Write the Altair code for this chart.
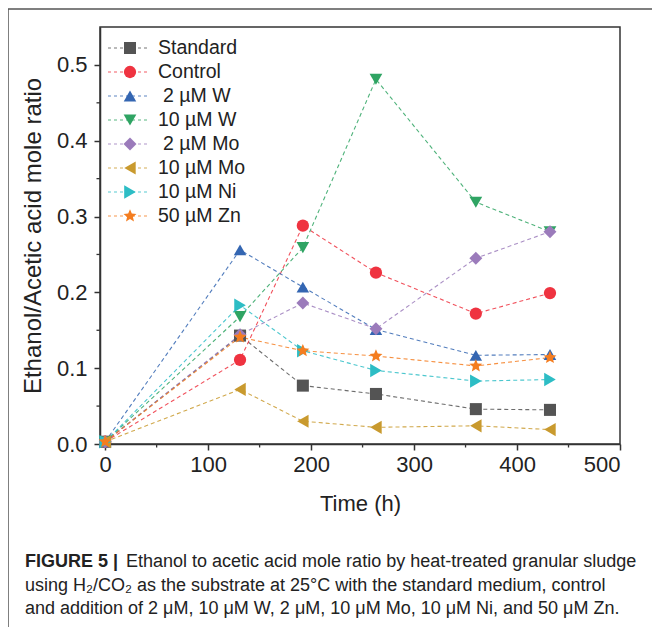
import altair as alt
import pandas as pd

# ---- data ----
time_h = [0, 131, 192, 263, 360, 432]
series = ["Standard", "Control", "2 µM W", "10 µM W", "2 µM Mo", "10 µM Mo", "10 µM Ni", "50 µM Zn"]
legend_indent = [0, 0, 1, 0, 1, 0, 0, 0]
standard = [0.003, 0.143, 0.077, 0.066, 0.046, 0.045]
control = [0.003, 0.111, 0.288, 0.226, 0.172, 0.199]
w2 = [0.003, 0.256, 0.207, 0.151, 0.117, 0.118]
w10 = [0.003, 0.168, 0.259, 0.481, 0.319, 0.280]
mo2 = [0.003, 0.144, 0.186, 0.152, 0.245, 0.280]
mo10 = [0.003, 0.072, 0.030, 0.022, 0.024, 0.019]
ni10 = [0.003, 0.183, 0.123, 0.097, 0.083, 0.085]
zn50 = [0.003, 0.141, 0.123, 0.116, 0.103, 0.114]
values = [standard, control, w2, w10, mo2, mo10, ni10, zn50]

x_ticks = [0, 100, 200, 300, 400, 500]
y_ticks = [0.0, 0.1, 0.2, 0.3, 0.4, 0.5]
x_minor = [50, 150, 250, 350, 450]
y_minor = [0.05, 0.15, 0.25, 0.35, 0.45]

colors = ["#545454", "#ef3340", "#3466b2", "#2fa463", "#9b7bbb", "#c99a2e", "#2dbdc5", "#f47d20"]
star = ("M0,-1L0.265,-0.364L0.951,-0.309L0.428,0.139L0.588,0.809L0,0.45"
        "L-0.588,0.809L-0.428,0.139L-0.951,-0.309L-0.265,-0.364Z")
shapes = ["square", "circle", "triangle-up", "triangle-down", "diamond",
          "triangle-left", "triangle-right", star]
sizes = [145, 185, 220, 220, 195, 220, 220, 260]

caption_bold = "FIGURE 5 |"
caption_lines = [
    "Ethanol to acetic acid mole ratio by heat-treated granular sludge",
    "using H\u2082/CO\u2082 as the substrate at 25\u00b0C with the standard medium, control",
    "and addition of 2 \u03bcM, 10 \u03bcM W, 2 \u03bcM, 10 \u03bcM Mo, 10 \u03bcM Ni, and 50 \u03bcM Zn.",
]

rows = []
for i, (s, vals) in enumerate(zip(series, values)):
    for j, (t, v) in enumerate(zip(time_h, vals)):
        rows.append({"series": s, "time": t, "ratio": v, "order": i * 10 + j})
df = pd.DataFrame(rows)
leg = pd.DataFrame({"series": series, "indent": legend_indent})

W, H = 520, 417
FONT = "Liberation Sans"
AX = "#333333"
TXT = "#222222"

xscale = alt.Scale(domain=[-5, 500], nice=False, zero=False)
yscale = alt.Scale(domain=[0, 0.55], nice=False, zero=False)
cscale = alt.Scale(domain=series, range=colors)
sscale = alt.Scale(domain=series, range=shapes)
zscale = alt.Scale(domain=series, range=sizes)

base = alt.Chart(df)

lines = base.mark_line(strokeDash=[4, 3], strokeWidth=1.1, opacity=0.85).encode(
    x=alt.X("time:Q", scale=xscale,
            axis=alt.Axis(values=x_ticks, title="Time (h)", grid=False, format="d")),
    y=alt.Y("ratio:Q", scale=yscale,
            axis=alt.Axis(values=y_ticks, title="Ethanol/Acetic acid mole ratio",
                          grid=False, format=".1f")),
    color=alt.Color("series:N", scale=cscale, legend=None),
    detail="series:N",
    order="order:Q",
)

points = base.mark_point(filled=True, opacity=1).encode(
    x=alt.X("time:Q", scale=xscale),
    y=alt.Y("ratio:Q", scale=yscale),
    color=alt.Color("series:N", scale=cscale, legend=None),
    shape=alt.Shape("series:N", scale=sscale, legend=None),
    size=alt.Size("series:N", scale=zscale, legend=None),
    order="order:Q",
)

xm = alt.Chart(pd.DataFrame({"m": x_minor})).mark_rule(color=AX, strokeWidth=1.3).encode(
    x=alt.X("m:Q", scale=xscale), y=alt.value(H), y2=alt.value(H + 3.5))
ym = alt.Chart(pd.DataFrame({"m": y_minor})).mark_rule(color=AX, strokeWidth=1.3).encode(
    y=alt.Y("m:Q", scale=yscale), x=alt.value(0), x2=alt.value(-3.5))

main = alt.layer(lines, points, xm, ym)

lyscale = alt.Scale(type="point", domain=series, range=[21, 189], padding=0)
lb = alt.Chart(leg)
leg_rule = lb.mark_rule(strokeDash=[3, 3], strokeWidth=1, opacity=0.8).encode(
    x=alt.value(8), x2=alt.value(50),
    y=alt.Y("series:N", scale=lyscale, axis=None),
    color=alt.Color("series:N", scale=cscale, legend=None))
leg_pt = lb.mark_point(filled=True, opacity=1).encode(
    x=alt.value(30),
    y=alt.Y("series:N", scale=lyscale, axis=None),
    color=alt.Color("series:N", scale=cscale, legend=None),
    shape=alt.Shape("series:N", scale=sscale, legend=None),
    size=alt.Size("series:N", scale=zscale, legend=None))
leg_txt0 = lb.transform_filter("datum.indent == 0").mark_text(
    align="left", baseline="middle", font=FONT, fontSize=19.5, color=TXT).encode(
    x=alt.value(58),
    y=alt.Y("series:N", scale=lyscale, axis=None),
    text="series:N")
leg_txt1 = lb.transform_filter("datum.indent == 1").mark_text(
    align="left", baseline="middle", font=FONT, fontSize=19.5, color=TXT).encode(
    x=alt.value(63),
    y=alt.Y("series:N", scale=lyscale, axis=None),
    text="series:N")
legend = alt.layer(leg_rule, leg_pt, leg_txt0, leg_txt1)

# caption and figure frame
RIGHT_PAD, BOTTOM_PAD = 32, 183
one = pd.DataFrame({"a": [0]})
frame_top = alt.Chart(one).mark_rule(color="#555", strokeWidth=1.5).encode(
    x=alt.value(-92), x2=alt.value(W + RIGHT_PAD), y=alt.value(-18))
frame_left = alt.Chart(one).mark_rule(color="#555", strokeWidth=1.5).encode(
    x=alt.value(-92), y=alt.value(-18), y2=alt.value(H + BOTTOM_PAD))
cap_bold = alt.Chart(pd.DataFrame({"t": [caption_bold]})).mark_text(
    align="left", baseline="alphabetic", font=FONT, fontSize=18, fontWeight="bold", color=TXT).encode(
    x=alt.value(-75), y=alt.value(540), text="t:N")
cap_x = [26, -75, -75]
cap_rows = []
for k, txt in enumerate(caption_lines):
    cap_rows.append(alt.Chart(pd.DataFrame({"t": [txt]})).mark_text(
        align="left", baseline="alphabetic", font=FONT, fontSize=18, color=TXT).encode(
        x=alt.value(cap_x[k]), y=alt.value(540 + 23.5 * k), text="t:N"))
deco = alt.layer(frame_top, frame_left, cap_bold, *cap_rows)

chart = alt.layer(main, legend, deco).resolve_scale(y="independent").properties(
    width=W, height=H,
    autosize=alt.AutoSizeParams(type="none"),
    padding={"left": 92, "top": 19, "right": RIGHT_PAD, "bottom": BOTTOM_PAD},
).configure_view(stroke=AX, strokeWidth=1.5).configure_axis(
    domainColor=AX, domainWidth=1.5, tickColor=AX, tickWidth=1.5, tickSize=6,
    labelFont=FONT, labelFontSize=22, labelColor=TXT,
    titleFont=FONT, titleFontWeight="normal", titleColor=TXT,
).configure_axisX(titlePadding=18, titleFontSize=22, labelPadding=4).configure_axisY(
    titlePadding=11, titleFontSize=24, labelPadding=7)

chart.save("out.html", embed_options={"renderer": "svg", "actions": False})
